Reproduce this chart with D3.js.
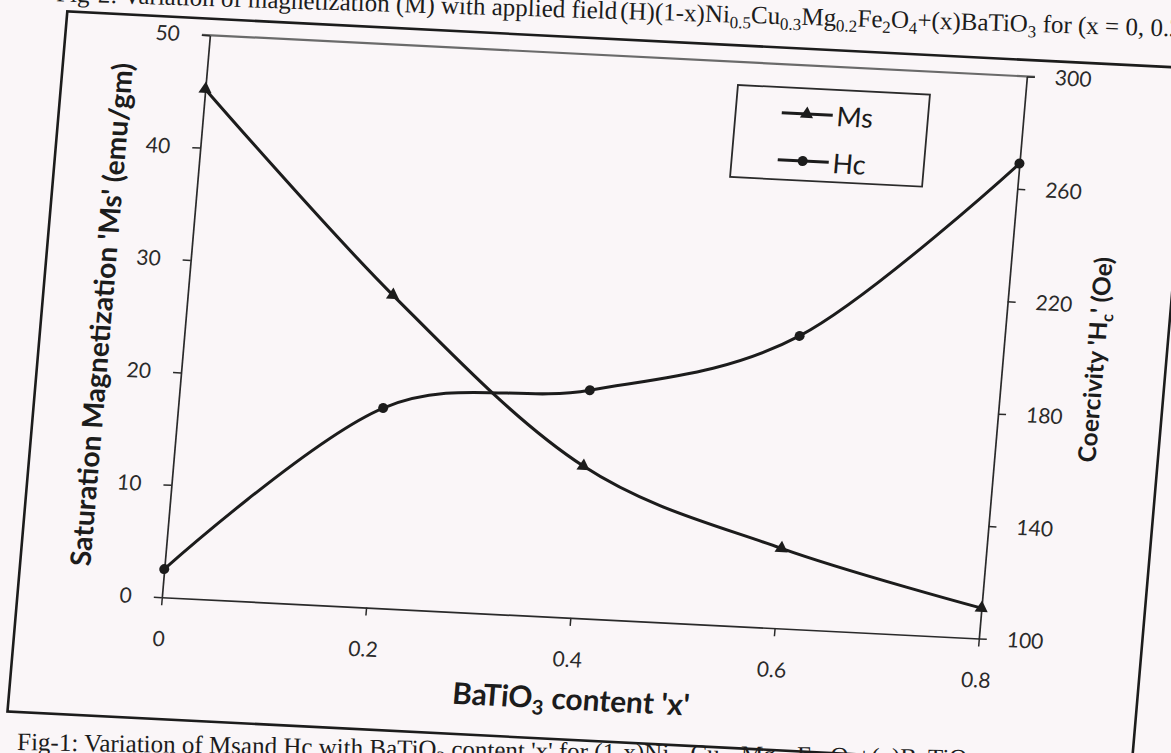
<!DOCTYPE html>
<html><head><meta charset="utf-8">
<script src="https://cdn.jsdelivr.net/npm/d3@7"></script>
<style>html,body{margin:0;padding:0;background:#faf6f8;overflow:hidden}svg{display:block}</style>
</head><body>
<script>
// ---- data ----
const xValues = [0, 0.2, 0.4, 0.6, 0.8];
const msValues = [45.2, 27.8, 13.5, 7.1, 2.7];
const hcValues = [110, 171, 181, 204, 269];
const xTicks = [0, 0.2, 0.4, 0.6, 0.8];
const msTicks = [0, 10, 20, 30, 40, 50];
const hcTicks = [100, 140, 180, 220, 260, 300];
const seriesNames = ["Ms", "Hc"];
const xTitle = [["BaTiO", false], ["3", true], [" content 'x'", false]];
const msTitle = [["Saturation Magnetization 'Ms' (emu/gm)", false]];
const hcTitle = [["Coercivity 'H", false], ["c", true], ["' (Oe)", false]];
const titlePrefix = "Fig-2: Variation of magnetization (M) with applied field ";
const titleMain = [["(H)(1-x)Ni", false], ["0.5", true], ["Cu", false], ["0.3", true], ["Mg", false], ["0.2", true], ["Fe", false], ["2", true], ["O", false], ["4", true], ["+(x)BaTiO", false], ["3", true], [" for (x = 0, 0.2, 0.4, 0.6, 0.8)", false]];
const caption = [["Fig-1: Variation of Msand Hc with BaTiO", false], ["3", true], [" content 'x' for (1-x)Ni", false], ["0.5", true], ["Cu", false], ["0.3", true], ["Mg", false], ["0.2", true], ["Fe", false], ["2", true], ["O", false], ["4", true], ["+(x)BaTiO", false], ["3", true]];

const W = 1171, H = 753;
const ink = "#1c1c1c";
const sans = "Lato, 'Open Sans', sans-serif";
const serif = "'Liberation Serif', 'DejaVu Serif', serif";

const svg = d3.select("body").append("svg").attr("width", W).attr("height", H);
svg.append("rect").attr("width", W).attr("height", H).attr("fill", "#faf6f8");

function addRich(sel, parts, fs) {
  parts.forEach(([t, sub]) => {
    const ts = sel.append("tspan").text(t);
    if (sub) ts.attr("font-size", fs * 0.68).attr("dy", fs * 0.22);
    else ts.attr("dy", 0);
  });
  const nodes = sel.selectAll("tspan").nodes();
  for (let i = 1; i < nodes.length; i++) {
    if (!parts[i][1] && parts[i - 1][1]) d3.select(nodes[i]).attr("dy", -fs * 0.22);
  }
  return sel;
}
function fit(sel, target) {
  const len = sel.node().getComputedTextLength();
  const fs = parseFloat(sel.attr("font-size"));
  const nf = fs * target / len;
  sel.attr("font-size", nf);
  sel.selectAll("tspan").each(function () {
    const t = d3.select(this);
    if (t.attr("font-size")) t.attr("font-size", nf * 0.68);
    const dy = parseFloat(t.attr("dy"));
    if (dy) t.attr("dy", dy * nf / fs);
  });
}

// ---- document title (separately rotated on the scanned page) ----
const tg = svg.append("g").attr("transform", "translate(620,19) rotate(1.8)")
  .attr("font-family", serif).attr("fill", ink);
tg.append("text").attr("x", -3).attr("text-anchor", "end").attr("font-size", 25).text(titlePrefix);
addRich(tg.append("text").attr("x", 0).attr("font-size", 25), titleMain, 25);

// ---- chart image (skewed in the scan) ----
const g = svg.append("g").attr("transform", "matrix(1,0.0505,-0.0855,1,0,0)");

g.append("path").attr("d", "M68,8H1192V708H68Z").attr("fill", "none")
  .attr("stroke", ink).attr("stroke-width", 2.6);

const L = 212, R = 1029, T = 24.5, B = 586.5;
const x = d3.scaleLinear().domain([0, 0.8]).range([L, R]);
const yMs = d3.scaleLinear().domain([0, 50]).range([B, T]);
const yHc = d3.scaleLinear().domain([100, 300]).range([B, T]);

g.append("line").attr("x1", L - 8).attr("x2", R + 8).attr("y1", T).attr("y2", T)
  .attr("stroke", "#6a6a6a").attr("stroke-width", 2.2);

function styleAxis(a) {
  a.select(".domain").attr("stroke", "#2a2a2a").attr("stroke-width", 1.7);
  a.selectAll(".tick line").attr("stroke", "#2a2a2a").attr("stroke-width", 1.5);
  a.selectAll("text").attr("fill", "#2a2a2a").attr("font-family", sans).attr("font-size", 21);
}
const ax = g.append("g").attr("transform", `translate(0,${B})`)
  .call(d3.axisBottom(x).tickValues(xTicks).tickSize(8).tickSizeOuter(0).tickPadding(26)
    .tickFormat(d => d === 0 ? "0" : d3.format(".1f")(d)));
styleAxis(ax);
const al = g.append("g").attr("transform", `translate(${L},0)`)
  .call(d3.axisLeft(yMs).tickValues(msTicks).tickSize(8).tickSizeOuter(0).tickPadding(22));
styleAxis(al);
const ar = g.append("g").attr("transform", `translate(${R},0)`)
  .call(d3.axisRight(yHc).tickValues(hcTicks).tickSize(8).tickSizeOuter(0).tickPadding(20));
styleAxis(ar);

const xt = g.append("text").attr("x", 628).attr("y", 678).attr("text-anchor", "middle")
  .attr("font-family", sans).attr("font-weight", "bold").attr("font-size", 22).attr("fill", ink);
addRich(xt, xTitle, 22); fit(xt, 237);
const lt = g.append("text").attr("transform", "translate(127,308) rotate(-90)").attr("text-anchor", "middle")
  .attr("dominant-baseline", "central")
  .attr("font-family", sans).attr("font-weight", "bold").attr("font-size", 24).attr("fill", ink);
addRich(lt, msTitle, 24); fit(lt, 503);
const rt = g.append("text").attr("transform", "translate(1122,303) rotate(-90)").attr("text-anchor", "middle")
  .attr("y", 8)
  .attr("font-family", sans).attr("font-weight", "bold").attr("font-size", 20).attr("fill", ink);
addRich(rt, hcTitle, 20); fit(rt, 205);

// series
const curve = d3.curveCatmullRom.alpha(0);
const msData = xValues.map((v, i) => [v, msValues[i]]);
const hcData = xValues.map((v, i) => [v, hcValues[i]]);
g.append("path").datum(msData).attr("fill", "none").attr("stroke", ink).attr("stroke-width", 3)
  .attr("d", d3.line().x(d => x(d[0])).y(d => yMs(d[1])).curve(curve));
g.append("path").datum(hcData).attr("fill", "none").attr("stroke", ink).attr("stroke-width", 3)
  .attr("d", d3.line().x(d => x(d[0])).y(d => yHc(d[1])).curve(curve));
const tri = d3.symbol(d3.symbolTriangle, 75);
g.selectAll(".ms").data(msData).join("path").attr("class", "ms")
  .attr("transform", d => `translate(${x(d[0])},${yMs(d[1])})`).attr("d", tri).attr("fill", ink);
g.selectAll(".hc").data(hcData).join("circle").attr("class", "hc")
  .attr("cx", d => x(d[0])).attr("cy", d => yHc(d[1])).attr("r", 5).attr("fill", ink);

// legend
const lg = g.append("g");
lg.append("rect").attr("x", 742).attr("y", 47.5).attr("width", 192).attr("height", 92)
  .attr("fill", "none").attr("stroke", "#2a2a2a").attr("stroke-width", 1.8);
seriesNames.forEach((name, i) => {
  const yy = 73 + i * 47;
  lg.append("line").attr("x1", 788).attr("x2", 839).attr("y1", yy).attr("y2", yy)
    .attr("stroke", ink).attr("stroke-width", 3);
  if (i === 0) lg.append("path").attr("transform", `translate(813,${yy})`).attr("d", tri).attr("fill", ink);
  else lg.append("circle").attr("cx", 813).attr("cy", yy).attr("r", 5).attr("fill", ink);
  lg.append("text").attr("x", 843).attr("y", yy).attr("dominant-baseline", "central")
    .attr("font-family", sans).attr("font-size", 27).attr("fill", ink).text(name);
});

// ---- caption (document text) ----
const cg = svg.append("g").attr("transform", "translate(17,750) rotate(1.0)")
  .attr("font-family", serif).attr("fill", ink);
addRich(cg.append("text").attr("font-size", 25), caption, 25);
</script>
</body></html>
